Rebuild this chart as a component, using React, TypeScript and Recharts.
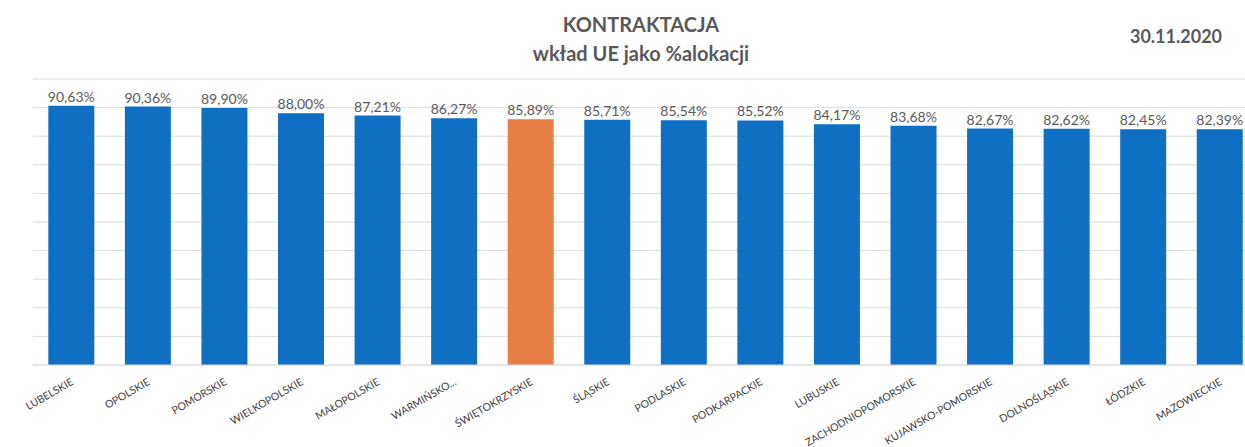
import { BarChart, Bar, XAxis, YAxis, CartesianGrid, LabelList, Cell } from 'recharts';

const regions = [
  'LUBELSKIE',
  'OPOLSKIE',
  'POMORSKIE',
  'WIELKOPOLSKIE',
  'MAŁOPOLSKIE',
  'WARMIŃSKO...',
  'ŚWIĘTOKRZYSKIE',
  'ŚLĄSKIE',
  'PODLASKIE',
  'PODKARPACKIE',
  'LUBUSKIE',
  'ZACHODNIOPOMORSKIE',
  'KUJAWSKO-POMORSKIE',
  'DOLNOŚLĄSKIE',
  'ŁÓDZKIE',
  'MAZOWIECKIE',
];

const shares = [90.63, 90.36, 89.9, 88.0, 87.21, 86.27, 85.89, 85.71, 85.54, 85.52, 84.17, 83.68, 82.67, 82.62, 82.45, 82.39];

const yTicks = [0, 10, 20, 30, 40, 50, 60, 70, 80, 90, 100];

const highlighted = 'ŚWIĘTOKRZYSKIE';

const data = regions.map((name, i) => ({ name, value: shares[i] }));

const FONT = 'Lato, "Noto Sans", sans-serif';
const TEXT = '#595959';

function formatPct(v: number): string {
  return `${v.toFixed(2).replace('.', ',')}%`;
}

function RegionTick({ x, y, payload }: any) {
  const tx = x + 3;
  const ty = y + 11;
  return (
    <text
      x={tx}
      y={ty}
      textAnchor="end"
      fill="#404040"
      fontSize={10.5}
      fontFamily={FONT}
      transform={`rotate(-30, ${tx}, ${ty})`}
    >
      {payload.value}
    </text>
  );
}

export default function App() {
  return (
    <div style={{ position: 'absolute', left: 0, top: 0, width: 1245, height: 447, overflow: 'hidden', background: '#fff' }}>
      <div
        style={{
          position: 'absolute',
          left: 441,
          top: 10,
          width: 400,
          textAlign: 'center',
          fontFamily: FONT,
          fontWeight: 700,
          fontSize: 20,
          lineHeight: '29px',
          color: TEXT,
        }}
      >
        <div>KONTRAKTACJA</div>
        <div>wkład UE jako %alokacji</div>
      </div>
      <div
        style={{
          position: 'absolute',
          left: 1076,
          top: 25,
          width: 200,
          textAlign: 'center',
          fontFamily: FONT,
          fontWeight: 700,
          fontSize: 18,
          lineHeight: '22px',
          color: TEXT,
        }}
      >
        30.11.2020
      </div>
      <BarChart
        width={1265}
        height={447}
        data={data}
        margin={{ top: 79, right: 7, bottom: 22, left: 33 }}
        barCategoryGap="20%"
        style={{ position: 'absolute', left: 0, top: 0 }}
      >
        <CartesianGrid vertical={false} stroke="#dcdcdc" />
        <XAxis
          dataKey="name"
          interval={0}
          height={60}
          tick={<RegionTick />}
          tickLine={false}
          axisLine={{ stroke: '#dcdcdc' }}
        />
        <YAxis hide domain={[0, 100]} ticks={yTicks} />
        <Bar dataKey="value" isAnimationActive={false}>
          {data.map((d) => (
            <Cell key={d.name} fill={d.name === highlighted ? '#E67E45' : '#0E6FC3'} />
          ))}
          <LabelList
            dataKey="value"
            position="top"
            offset={4}
            formatter={(v: any) => formatPct(Number(v))}
            fill={TEXT}
            fontSize={14}
            fontFamily={FONT}
          />
        </Bar>
      </BarChart>
    </div>
  );
}
